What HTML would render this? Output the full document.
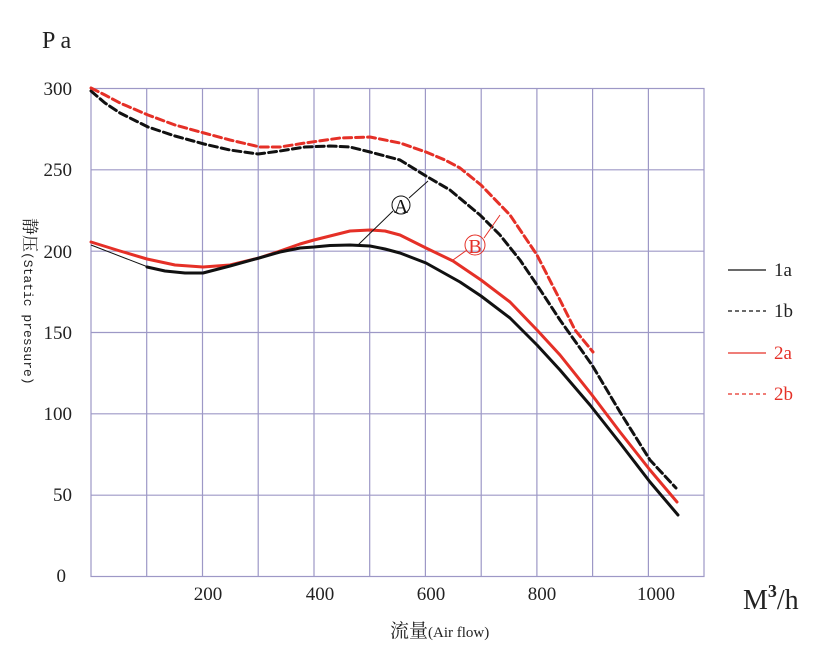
<!DOCTYPE html>
<html><head><meta charset="utf-8"><style>body{margin:0;background:#fff}svg{display:block}</style></head><body>
<svg width="837" height="668" viewBox="0 0 837 668" xmlns="http://www.w3.org/2000/svg" font-family="Liberation Serif, serif">
<g stroke="#9d98c6" stroke-width="1.2" fill="none">
<rect x="91" y="88.5" width="613" height="488"/>
<line x1="146.7" y1="88.5" x2="146.7" y2="576.5"/><line x1="202.5" y1="88.5" x2="202.5" y2="576.5"/>
<line x1="258.2" y1="88.5" x2="258.2" y2="576.5"/><line x1="314" y1="88.5" x2="314" y2="576.5"/>
<line x1="369.7" y1="88.5" x2="369.7" y2="576.5"/><line x1="425.4" y1="88.5" x2="425.4" y2="576.5"/>
<line x1="481.2" y1="88.5" x2="481.2" y2="576.5"/><line x1="536.9" y1="88.5" x2="536.9" y2="576.5"/>
<line x1="592.6" y1="88.5" x2="592.6" y2="576.5"/><line x1="648.4" y1="88.5" x2="648.4" y2="576.5"/>
<line x1="91" y1="169.8" x2="704" y2="169.8"/><line x1="91" y1="251.2" x2="704" y2="251.2"/>
<line x1="91" y1="332.5" x2="704" y2="332.5"/><line x1="91" y1="413.8" x2="704" y2="413.8"/>
<line x1="91" y1="495.2" x2="704" y2="495.2"/>
</g>
<g font-size="19" fill="#222" text-anchor="end">
<text x="72" y="95">300</text><text x="72" y="176">250</text><text x="72" y="258">200</text>
<text x="72" y="339">150</text><text x="72" y="420">100</text><text x="72" y="501">50</text><text x="66" y="582">0</text>
</g>
<g font-size="19" fill="#222" text-anchor="middle">
<text x="208" y="600">200</text><text x="320" y="600">400</text><text x="431" y="600">600</text>
<text x="542" y="600">800</text><text x="656" y="600">1000</text>
</g>
<text x="42" y="48" font-size="24" fill="#222">P a</text>
<text x="743" y="609" font-size="28" fill="#222">M<tspan font-size="18" dy="-12" font-weight="bold">3</tspan><tspan dy="12">/h</tspan></text>
<text x="390" y="637" font-size="19" fill="#222" font-family="Liberation Serif, Noto Serif CJK SC, serif">流量<tspan font-size="15">(Air flow)</tspan></text>
<text transform="translate(24,218) rotate(90)" font-size="17" fill="#222" font-family="Liberation Mono, Noto Serif CJK SC, monospace">静压<tspan font-size="13">(Static pressure)</tspan></text>
<g fill="none" stroke-width="3" stroke-linecap="round" stroke-linejoin="round">
<polyline points="91,91 105,103 120,113 148,127 175,136 204,144 230,150 258,154 280,151 305,147 330,146 350,147 370,152 400,160 426,176 450,190 480,215 500,235 520,260 537,285 560,320 592,365 620,412 650,460 676,488" stroke="#111" stroke-dasharray="8,4"/>
<polyline points="91,88 105,95 120,103 148,115 175,125 204,133 230,140 260,147 280,147 305,143 340,138 370,137 400,143 426,152 445,160 460,168 481,185 510,215 537,255 560,300 575,330 593,352" stroke="#e53027" stroke-dasharray="8,4"/>
<polyline points="91,242 120,251 147,259 175,265 203,267 230,265 259,258 280,251 300,244 314,240 330,236 350,231 370,230 385,231 400,235 426,248 453,261 481,280 510,302 537,330 560,355 592,395 620,432 650,470 677,502" stroke="#e53027"/>
<polyline points="147,267 165,271 185,273 203,273 230,266 259,258 280,252 300,248 314,247 330,245.5 350,245 370,246 385,249 400,253 426,263 460,282 481,296 510,318 537,345 560,370 590,405 620,443 650,482 678,515" stroke="#111"/>
</g>
<line x1="91" y1="245" x2="148" y2="267" stroke="#111" stroke-width="1"/>
<g stroke="#111" stroke-width="1" fill="none">
<line x1="358" y1="245" x2="393" y2="211"/><line x1="409" y1="198" x2="428" y2="181"/>
<circle cx="401" cy="205" r="9"/>
</g>
<text x="401" y="213" font-size="20" text-anchor="middle" fill="#111">A</text>
<g stroke="#e53027" stroke-width="1" fill="none">
<line x1="453" y1="260" x2="467" y2="250"/><line x1="484" y1="238" x2="500" y2="215"/>
<circle cx="475" cy="245" r="10"/>
</g>
<text x="475" y="253" font-size="20" text-anchor="middle" fill="#e53027">B</text>
<g stroke-width="1.2">
<line x1="728" y1="270" x2="766" y2="270" stroke="#111"/>
<line x1="728" y1="311" x2="766" y2="311" stroke="#111" stroke-dasharray="4,3"/>
<line x1="728" y1="353" x2="766" y2="353" stroke="#e53027"/>
<line x1="728" y1="394" x2="766" y2="394" stroke="#e53027" stroke-dasharray="4,3"/>
</g>
<g font-size="19">
<text x="774" y="276" fill="#222">1a</text><text x="774" y="317" fill="#222">1b</text>
<text x="774" y="359" fill="#e53027">2a</text><text x="774" y="400" fill="#e53027">2b</text>
</g>
</svg>
</body></html>
